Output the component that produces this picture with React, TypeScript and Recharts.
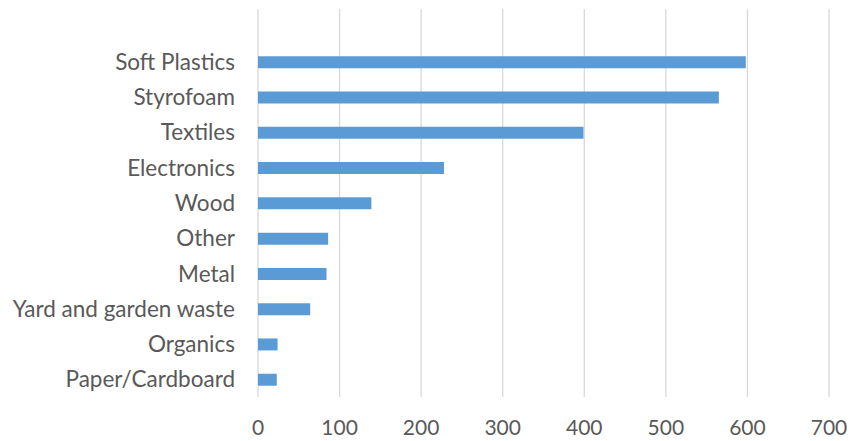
import { BarChart, Bar, XAxis, YAxis, CartesianGrid } from 'recharts'

// top row of the source sheet is empty, so the first category is blank
const categories = [
  '',
  'Soft Plastics',
  'Styrofoam',
  'Textiles',
  'Electronics',
  'Wood',
  'Other',
  'Metal',
  'Yard and garden waste',
  'Organics',
  'Paper/Cardboard',
]
const amounts: (number | null)[] = [null, 598, 565, 399, 228, 139, 86, 84, 64, 24, 23]
const xTicks = [0, 100, 200, 300, 400, 500, 600, 700]

const data = categories.map((name, i) => ({ name, value: amounts[i] }))

const font = 'Lato, "Open Sans", sans-serif'
const xTickStyle = { fill: '#595959', fontSize: 21, fontFamily: font }
const yTickStyle = { fill: '#595959', fontSize: 22.5, fontFamily: font }

export default function App() {
  return (
    <div style={{ position: 'absolute', left: 0, top: 0, background: '#fff' }}>
      <BarChart
        width={857}
        height={441}
        data={data}
        layout="vertical"
        margin={{ top: 9, right: 28, left: 0, bottom: 0 }}
      >
        <CartesianGrid horizontal={false} stroke="#d9d9d9" strokeWidth={1.3} />
        <XAxis
          type="number"
          domain={[0, 700]}
          ticks={xTicks}
          axisLine={false}
          tickLine={false}
          tickSize={0}
          tickMargin={23}
          height={44}
          tick={xTickStyle}
          interval={0}
        />
        <YAxis
          type="category"
          dataKey="name"
          width={258}
          axisLine={false}
          tickLine={false}
          tickSize={0}
          tickMargin={23}
          tick={yTickStyle}
          interval={0}
        />
        <Bar dataKey="value" fill="#5b9bd5" barSize={12} isAnimationActive={false} />
      </BarChart>
    </div>
  )
}
